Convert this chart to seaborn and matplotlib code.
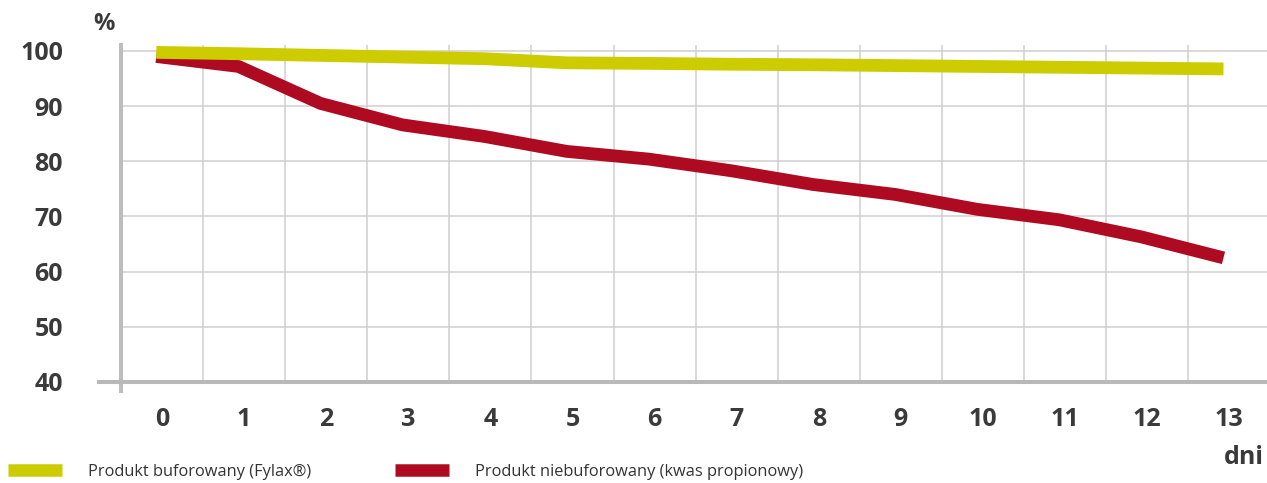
import numpy as np
import pandas as pd
import seaborn as sns
import matplotlib.pyplot as plt

# ---- data ----
days = list(range(14))
buffered = [99.75, 99.5, 99.2, 98.9, 98.6, 97.85, 97.75, 97.6, 97.5, 97.35, 97.2, 97.05, 96.9, 96.75]
unbuffered = [99.0, 97.2, 90.5, 86.6, 84.5, 81.8, 80.4, 78.3, 75.8, 74.0, 71.3, 69.4, 66.3, 62.5]
series_labels = ["Produkt buforowany (Fylax®)", "Produkt niebuforowany (kwas propionowy)"]
series_colors = ["#cccc00", "#ae0a22"]
yticks = [40, 50, 60, 70, 80, 90, 100]
xlabel_text = "dni"
ylabel_text = "%"

sns.set_style("white")
plt.rcParams["font.family"] = ["Open Sans", "DejaVu Sans"]

df = pd.DataFrame({
    "day": days * 2,
    "value": buffered + unbuffered,
    "series": [series_labels[0]] * len(days) + [series_labels[1]] * len(days),
})
# the drawn lines sit slightly left of the category centres in the reference
df["xpos"] = df["day"] - 0.07

W, H = 1267, 483
fig = plt.figure(figsize=(W / 100, H / 100), dpi=100)
ax = fig.add_axes([121 / W, 1 - 382 / H, (W - 121) / W, (382 - 45) / H])

# draw red first, yellow on top
sns.lineplot(data=df, x="xpos", y="value", hue="series",
             hue_order=[series_labels[1], series_labels[0]],
             palette={series_labels[0]: series_colors[0], series_labels[1]: series_colors[1]},
             linewidth=9.2, ax=ax, legend=True)
for ln in ax.lines:
    ln.set_solid_capstyle("butt")
    ln.set_solid_joinstyle("round")

handles, labs = ax.get_legend_handles_labels()
ax.get_legend().remove()

ytop = 40 + 337 / 5.517
ax.set_xlim(-0.5, 13.46)
ax.set_ylim(40, ytop)

grid_c = "#cfcfcf"
txt_c = "#3a3a3a"

ax.set_xticks(days)
ax.set_xticklabels([str(d) for d in days])
ax.set_xticks(np.arange(-0.5, 13, 1), minor=True)
ax.set_yticks(yticks)
ax.set_yticklabels([str(v) for v in yticks])

ax.tick_params(axis="x", which="major", length=0, pad=18, labelsize=18, labelcolor=txt_c)
ax.tick_params(axis="x", which="minor", length=6.5, width=1.1, color=grid_c, direction="out")
ax.tick_params(axis="y", which="major", length=15.8, width=1.1, color=grid_c, pad=26,
               labelsize=18, labelcolor=txt_c)
for lbl in ax.get_xticklabels() + ax.get_yticklabels():
    lbl.set_fontweight("bold")

ax.grid(False)
ax.yaxis.grid(True, which="major", color=grid_c, lw=1.1)
ax.xaxis.grid(True, which="minor", color=grid_c, lw=1.1)
ax.set_axisbelow(True)

for s in ["top", "right"]:
    ax.spines[s].set_visible(False)
ax.spines["left"].set_color("#bdbdbd")
ax.spines["left"].set_linewidth(2.9)
ax.spines["left"].set_bounds(40 - 9 / 5.517, ytop)
ax.spines["bottom"].set_color("#b8b8b8")
ax.spines["bottom"].set_linewidth(2.9)
ax.spines["bottom"].set_bounds(-0.5 - 22 / 82.1, 13.46)
ax.set_xlabel("")
ax.set_ylabel("")

fig.text(104 / W, 1 - 24 / H, ylabel_text, ha="center", va="center",
         fontsize=17, fontweight="bold", color=txt_c)
fig.text(1264 / W, 1 - 457 / H, xlabel_text, ha="right", va="center",
         fontsize=18, fontweight="bold", color=txt_c)

# legends
hmap = dict(zip(labs, handles))
pos = {series_labels[0]: 8, series_labels[1]: 395}
for lab in series_labels:
    h = hmap[lab]
    h.set_linewidth(9)
    h.set_solid_capstyle("butt")
    lg = fig.legend([h], [lab], loc="center left",
                    bbox_to_anchor=(pos[lab] / W, 1 - 472 / H),
                    frameon=False, borderpad=0, borderaxespad=0,
                    handlelength=3.3, handletextpad=1.6,
                    prop={"size": 11.8, "weight": "normal"})
    for t in lg.get_texts():
        t.set_color("#333333")

fig.savefig("out.png", dpi=100)
